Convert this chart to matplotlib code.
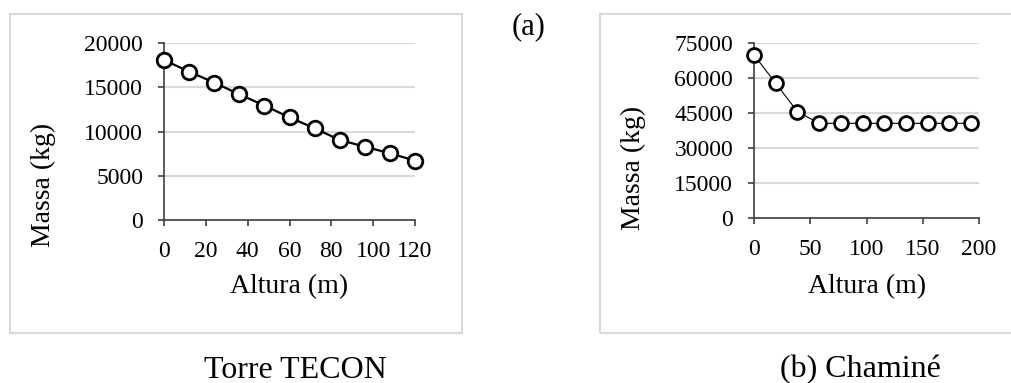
import matplotlib.pyplot as plt
from matplotlib.patches import Rectangle

plt.rcParams['font.family'] = ['Liberation Serif', 'DejaVu Serif']

# Torre TECON
altura_torre = [0, 12, 24, 36, 48, 60, 72, 84, 96, 108, 120]
massa_torre = [18100, 16800, 15550, 14230, 12950, 11620, 10380, 9060, 8300, 7550, 6720]

# Chaminé
altura_chamine = [0, 19.3, 38.6, 57.9, 77.2, 96.5, 115.8, 135.1, 154.4, 173.7, 193]
massa_chamine = [70000, 57900, 45700, 40700, 40700, 40700, 40700, 40700, 40700, 40700, 40700]

W, H = 1012, 383
fig = plt.figure(figsize=(W / 100, H / 100), dpi=100)


def px(x0, y0, x1, y1):
    return [x0 / W, 1 - y1 / H, (x1 - x0) / W, (y1 - y0) / H]


# outer frames
for x0, x1 in [(10, 462), (600, 1030)]:
    r = Rectangle((x0 / W, 1 - 333 / H), (x1 - x0) / W, 319 / H,
                  transform=fig.transFigure, fill=False, edgecolor='#d9d9d9', linewidth=1.5)
    fig.patches.append(r)


def style(ax):
    ax.spines['top'].set_visible(False)
    ax.spines['right'].set_visible(False)
    for s in ('left', 'bottom'):
        ax.spines[s].set_color('#404040')
        ax.spines[s].set_linewidth(1.2)
    ax.yaxis.grid(True, color='#d9d9d9', linewidth=1.5)
    ax.set_axisbelow(True)
    ax.tick_params(axis='both', direction='out', length=4, width=1.2, color='#404040',
                   labelsize=17)
    ax.tick_params(axis='y', pad=11)
    ax.tick_params(axis='x', pad=11)


ax1 = fig.add_axes(px(164, 43.3, 415, 220))
ax1.plot(altura_torre, massa_torre, color='black', linewidth=1.6, marker='o', markersize=10.5,
         markerfacecolor='white', markeredgecolor='black', markeredgewidth=2, clip_on=False, zorder=3)
ax1.set_xlim(0, 120)
ax1.set_ylim(0, 20000)
ax1.set_xticks(range(0, 121, 20))
ax1.set_yticks(range(0, 20001, 5000))
style(ax1)

ax2 = fig.add_axes(px(754, 43.3, 979, 218.3))
ax2.plot(altura_chamine, massa_chamine, color='black', linewidth=0.8, marker='o', markersize=10,
         markerfacecolor='white', markeredgecolor='black', markeredgewidth=2, clip_on=False, zorder=3)
ax2.set_xlim(0, 200)
ax2.set_ylim(0, 75000)
ax2.set_xticks(range(0, 201, 50))
ax2.set_yticks(range(0, 75001, 15000))
style(ax2)

# axis titles
fig.text(43 / W, 1 - 185 / H, 'Massa (kg)', rotation=90, ha='center', va='center', fontsize=20)
fig.text(289 / W, 1 - 287 / H, 'Altura (m)', ha='center', va='center', fontsize=20)
fig.text(633 / W, 1 - 167.5 / H, 'Massa (kg)', rotation=90, ha='center', va='center', fontsize=20)
fig.text(867 / W, 1 - 287 / H, 'Altura (m)', ha='center', va='center', fontsize=20)

# captions
fig.text(295 / W, 1 - 370 / H, 'Torre TECON', ha='center', va='center', fontsize=23)
fig.text(860 / W, 1 - 370 / H, '(b) Chaminé', ha='center', va='center', fontsize=23)
fig.text(529 / W, 1 - 27 / H, '(a)', ha='center', va='center', fontsize=22)

fig.savefig('out.png', dpi=100)
